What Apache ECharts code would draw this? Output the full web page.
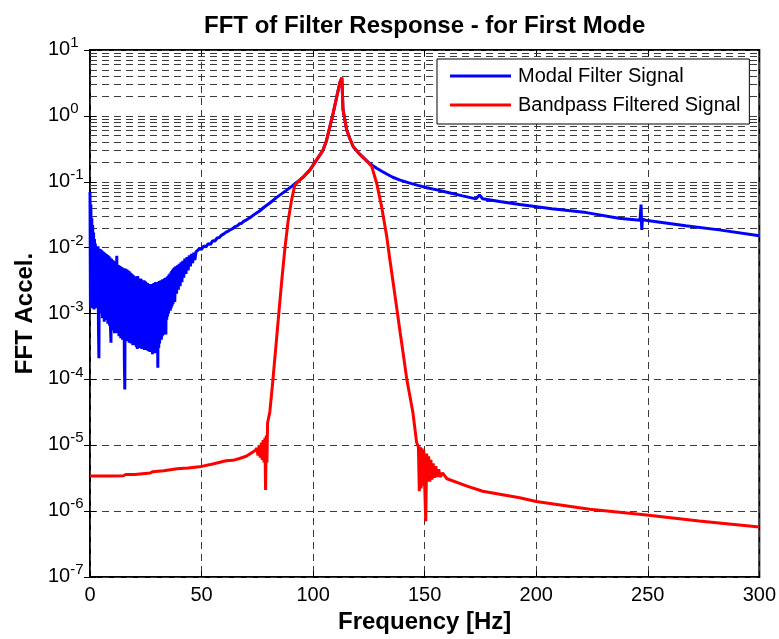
<!DOCTYPE html>
<html>
<head>
<meta charset="utf-8">
<script src="https://cdn.jsdelivr.net/npm/echarts@6/dist/echarts.min.js"></script>
<style>
html, body { margin: 0; padding: 0; background: #fff; }
#chart { width: 779px; height: 639px; }
</style>
</head>
<body>
<div id="chart"></div>
<script>
// values: [frequency Hz, FFT amplitude]

// modal filter signal, noisy low-frequency part
const modalNoisy = [
  [0,7e-2],[0.2,1.3e-3],[0.4,4.5e-2],[0.6,1.25e-3],[0.8,2.8e-2],[1,1.2e-3],[1.2,2.2e-2],[1.4,1.4e-3],[1.6,1.7e-2],[1.8,1.15e-3],
  [2,1.35e-2],[2.2,1.3e-3],[2.4,1.15e-2],[2.6,1.4e-3],[2.8,1.05e-2],[3,1.2e-3],[3.2,1.02e-2],[3.4,1.3e-3],[3.6,1.05e-2],[3.8,6e-4],
  [4,2.1e-4],[4.2,9.6e-3],[4.4,1.1e-3],[4.6,9.5e-3],[4.8,1e-3],[5,9.2e-3],[5.2,1.05e-3],[5.4,9e-3],[5.6,8.5e-4],[5.8,8.7e-3],
  [6,9.5e-4],[6.2,8.5e-3],[6.4,7.5e-4],[6.6,8.3e-3],[6.8,1e-3],[7,8.1e-3],[7.2,8e-4],[7.4,7.9e-3],[7.6,9e-4],[7.8,7.7e-3],
  [8,7e-4],[8.2,7.5e-3],[8.4,8e-4],[8.6,7.3e-3],[8.8,6.5e-4],[9,7e-3],[9.2,6e-4],[9.4,3.6e-4],[9.6,6.8e-3],[9.8,6e-4],
  [10,6.5e-3],[10.2,5.5e-4],[10.4,6.4e-3],[10.6,6.2e-4],[10.8,6.2e-3],[11,5e-4],[11.2,6e-3],[11.4,5.5e-4],[11.6,5.8e-3],[11.8,5.2e-4],
  [12,7.5e-3],[12.2,5e-4],[12.4,5.5e-3],[12.6,5.5e-4],[12.8,5.4e-3],[13,4.5e-4],[13.2,5.3e-3],[13.4,5e-4],[13.6,5.2e-3],[13.8,4.2e-4],
  [14,5.1e-3],[14.2,4.6e-4],[14.4,5e-3],[14.6,4e-4],[14.8,4.9e-3],[15,4.3e-4],[15.2,4.8e-3],[15.4,2e-4],[15.6,7e-5],[15.8,4.8e-3],
  [16,4e-4],[16.2,4.7e-3],[16.4,4.3e-4],[16.6,4.6e-3],[16.8,3.8e-4],[17,4.5e-3],[17.2,4e-4],[17.4,4.4e-3],[17.6,3.6e-4],[17.8,4.3e-3],
  [18,3.8e-4],[18.2,4.1e-3],[18.4,3.5e-4],[18.6,4e-3],[18.8,3.7e-4],[19,3.9e-3],[19.2,3.3e-4],[19.4,3.8e-3],[19.6,3.5e-4],[19.8,3.7e-3],
  [20,3.3e-4],[20.2,3.6e-3],[20.4,3.6e-4],[20.6,3.6e-3],[20.8,3.1e-4],[21,3.5e-3],[21.2,2.9e-4],[21.4,3.7e-3],[21.6,3.2e-4],[21.8,3.4e-3],
  [22,3.3e-4],[22.2,3.3e-3],[22.4,3e-4],[22.6,3.4e-3],[22.8,3.2e-4],[23,3.3e-3],[23.2,2.9e-4],[23.4,3.2e-3],[23.6,3.1e-4],[23.8,3.2e-3],
  [24,3e-4],[24.2,3.2e-3],[24.4,2.8e-4],[24.6,3.1e-3],[24.8,3e-4],[25,3e-3],[25.2,2.8e-4],[25.4,2.9e-3],[25.6,2.9e-4],[25.8,2.9e-3],
  [26,2.7e-4],[26.2,2.8e-3],[26.4,2.8e-4],[26.6,2.8e-3],[26.8,2.6e-4],[27,2.8e-3],[27.2,2.7e-4],[27.4,2.7e-3],[27.6,2.6e-4],[27.8,2.7e-3],
  [28,2.4e-4],[28.2,2.8e-3],[28.4,2.6e-4],[28.6,2.9e-3],[28.8,2.5e-4],[29,2.8e-3],[29.2,2.7e-4],[29.4,3e-3],[29.6,2.6e-4],[29.8,2.9e-3],
  [30,2.5e-4],[30.2,3e-3],[30.4,1.5e-4],[30.6,3e-3],[30.8,3e-4],[31,3.1e-3],[31.2,3.5e-4],[31.4,3.1e-3],[31.6,4e-4],[31.8,3.2e-3],
  [32,4e-4],[32.2,3.2e-3],[32.4,4.5e-4],[32.6,3.3e-3],[32.8,4.7e-4],[33,3.3e-3],[33.2,5e-4],[33.4,3.4e-3],[33.6,6e-4],[33.8,3.5e-3],
  [34,4.8e-4],[34.2,3.5e-3],[34.4,8e-4],[34.6,3.6e-3],[34.8,9e-4],[35,3.7e-3],[35.2,1e-3],[35.4,3.9e-3],[35.6,1.1e-3],[35.8,4e-3],
  [36,1.1e-3],[36.2,4.2e-3],[36.4,1.2e-3],[36.6,4.4e-3],[36.8,1.3e-3],[37,4.6e-3],[37.2,1.4e-3],[37.4,4.8e-3],[37.6,1.6e-3],[37.8,5e-3],
  [38,1.5e-3],[38.4,5.2e-3],[38.8,2e-3],[39.2,5.4e-3],[39.6,2.3e-3],[40,5.7e-3],[40.4,2.6e-3],[40.8,6e-3],[41.2,3e-3],[41.6,6.3e-3],
  [42,3.5e-3],[42.5,6.8e-3],[43,4e-3],[43.5,7.2e-3],[44,4.5e-3],[44.5,7.6e-3],[45,5.2e-3],[45.5,8e-3],[46,5.8e-3],[46.5,8.4e-3],
  [47,6.5e-3],[47.5,8.6e-3]
];

// modal filter signal, smooth part from 48 Hz up
const modalCurve = [
  [48,8.4e-3],[49,9.6e-3],[50,9.4e-3],[51,1.06e-2],[52,1.03e-2],[53,1.15e-2],[54,1.12e-2],[55,1.27e-2],[56,1.26e-2],[57,1.4e-2],
  [58,1.42e-2],[59,1.55e-2],[60,1.62e-2],[61,1.72e-2],[62,1.78e-2],[63,1.88e-2],[64,1.95e-2],[65,2.08e-2],[66,2.14e-2],[67,2.3e-2],
  [68,2.35e-2],[69,2.52e-2],[70,2.62e-2],[72,2.9e-2],[74,3.25e-2],[76,3.6e-2],[78,4.1e-2],[80,4.6e-2],[82,5.2e-2],[84,5.9e-2],
  [86,6.6e-2],[88,7.4e-2],[90,8.3e-2],[92,9.4e-2],[94,0.106],[96,0.122],[98.5,0.15],[101,0.2],[104.4,0.3],[106,0.42],
  [107.5,0.68],[109,1.1],[110.6,1.95],[112,3.2],[112.9,3.8],[113.4,1.25],[115,0.62],[116.5,0.45],[118,0.34],[121,0.26],
  [124.5,0.2],[126.5,0.178],[128.5,0.16],[131,0.143],[133,0.131],[135.7,0.117],[139,0.106],[143,0.096],[147,0.088],[151,0.081],
  [155,0.076],[161,0.068],[167,0.061],[173,0.055],[174.6,0.063],[176,0.055],[183.6,0.05],
  [192.6,0.045],[207,0.039],[222.5,0.034],[237,0.028],[246.5,0.026],[247,0.045],[247.3,0.0186],[247.6,0.027],[249,0.026],[267,0.0214],
  [282,0.0186],[300,0.0151]
];

// bandpass filtered signal
const bandLow = [
  [0,3.4e-6],[5,3.4e-6],[10,3.4e-6],[15,3.45e-6],[16,3.6e-6],[20,3.6e-6],[27,3.8e-6],[28,3.95e-6],[33,4.1e-6],[39,4.4e-6],
  [44,4.5e-6],[49,4.7e-6],[55,5.2e-6],[61,5.8e-6],[64,5.9e-6],[67,6.3e-6],[70,6.8e-6],[73,7.9e-6],[74,8.3e-6],[74.8,9e-6],
  [75.3,7e-6],[75.8,1e-5],[76.3,6.5e-6],[76.8,1.1e-5],[77.2,6e-6],[77.6,1.2e-5],[78,5.5e-6],[78.4,1.3e-5],[78.7,2.1e-6],[79,1.4e-5],
  [79.3,5.5e-6],[79.6,2.2e-5]
];
const bandPass = [
  [80.6,3.2e-5],[81.3,5.6e-5],[82,1e-4],[83,2.4e-4],[84,5.8e-4],[85,1.4e-3],[86,3.3e-3],[87.3,9.3e-3],[88.7,2.4e-2],[90.4,5.4e-2],
  [91.8,8.9e-2],[94,0.106],[96,0.122],[98.5,0.15],[101,0.2],[104.4,0.3],[106,0.42],[107.5,0.68],[109,1.1],[110.6,1.95],
  [112,3.2],[112.9,3.8],[113.4,1.25],[115,0.62],[116.5,0.45],[118,0.34],[121,0.26],[124.5,0.2],[126.3,0.17],[128.5,0.095],
  [130.7,0.042],[133,0.0148],[134.4,6.6e-3],[136,2.75e-3],[137.5,1.2e-3],[139,5.2e-4],[140.5,2.3e-4],[142,1e-4],[144.7,3.2e-5],[146.4,1.1e-5]
];
const bandHigh = [
  [147.2,9.5e-6],[147.6,2e-6],[148,9.5e-6],[148.4,2.2e-6],[148.8,9e-6],[149.2,2.4e-6],[149.6,8.5e-6],[150,2.5e-6],[150.5,7e-7],[150.9,7.5e-6],
  [151.3,2.8e-6],[151.8,6.8e-6],[152.3,2.8e-6],[152.8,6e-6],[153.3,3e-6],[153.8,5.3e-6],[154.4,3.2e-6],[155,4.8e-6],[155.6,3.3e-6],[156.3,4.3e-6],
  [157,3.3e-6],[158,3.8e-6],[160,3.1e-6],[169,2.4e-6],[176,2e-6],[192.6,1.6e-6],[200,1.4e-6],[224,1.07e-6],[249.5,8.7e-7],[273,7.1e-7],
  [300,5.75e-7]
];

const seriesNames = ['Modal Filter Signal', 'Bandpass Filtered Signal'];
const decades = [-7, -6, -5, -4, -3, -2, -1, 0];
const mantissas = [2, 3, 4, 5, 6, 7, 8, 9];

const FONT = "'Liberation Sans', Arial, Helvetica, sans-serif";
const gridDash = { type: [7, 5], color: '#3a3a3a', width: 1 };

// minor log grid lines (2..9 in every decade)
const minorLines = [];
decades.forEach(d => mantissas.forEach(m => minorLines.push({ yAxis: m * Math.pow(10, d) })));

const chart = echarts.init(document.getElementById('chart'));

const option = {
  animation: false,
  backgroundColor: '#fff',
  textStyle: { fontFamily: FONT },
  title: {
    text: 'FFT of Filter Response - for First Mode',
    left: 199,
    top: 9,
    textStyle: { fontSize: 24, fontWeight: 'bold', color: '#000', fontFamily: FONT }
  },
  grid: {
    left: 90, right: 18, top: 50, bottom: 61,
    show: true, borderColor: '#000', borderWidth: 2, backgroundColor: '#fff'
  },
  legend: {
    data: seriesNames.map(n => ({ name: n, icon: 'rect' })),
    orient: 'vertical',
    left: 437,
    top: 59,
    z: 20,
    padding: [7, 9, 9, 13],
    itemWidth: 61,
    itemHeight: 3,
    itemGap: 9,
    backgroundColor: '#fff',
    borderColor: '#000',
    borderWidth: 1,
    borderRadius: 0,
    textStyle: { fontSize: 20, color: '#000', lineHeight: 20, padding: [0, 0, 0, 2], fontFamily: FONT }
  },
  xAxis: [{
    type: 'value', min: 0, max: 300, interval: 50,
    name: 'Frequency [Hz]', nameLocation: 'middle', nameGap: 33,
    nameTextStyle: { fontSize: 24, fontWeight: 'bold', color: '#000', fontFamily: FONT },
    axisLine: { show: false },
    axisTick: { inside: true, length: 6, lineStyle: { color: '#000' } },
    axisLabel: { fontSize: 20, color: '#000', margin: 8, fontFamily: FONT },
    splitLine: { show: true, lineStyle: gridDash }
  }, {
    type: 'value', position: 'top', min: 0, max: 300, interval: 50,
    axisLine: { show: false },
    axisTick: { inside: true, length: 6, lineStyle: { color: '#000' } },
    axisLabel: { show: false },
    splitLine: { show: false }
  }],
  yAxis: [{
    type: 'log', logBase: 10, min: 1e-7, max: 10, splitNumber: 8,
    name: 'FFT Accel.', nameLocation: 'middle', nameGap: 46,
    nameTextStyle: { fontSize: 24, fontWeight: 'bold', color: '#000', fontFamily: FONT },
    axisLine: { show: false },
    axisTick: { inside: true, length: 6, lineStyle: { color: '#000' } },
    axisLabel: {
      align: 'left', margin: 42, padding: [0, 0, 5, 0],
      formatter: v => '{b|10}{e|' + Math.round(Math.log10(v)) + '}',
      rich: {
        b: { fontSize: 20, color: '#000', verticalAlign: 'bottom', lineHeight: 24, fontFamily: FONT },
        e: { fontSize: 15, color: '#000', verticalAlign: 'top', lineHeight: 24, fontFamily: FONT }
      }
    },
    splitLine: { show: true, lineStyle: gridDash }
  }, {
    type: 'log', logBase: 10, min: 1e-7, max: 10, splitNumber: 8, position: 'right',
    axisLine: { show: false },
    axisTick: { inside: true, length: 6, lineStyle: { color: '#000' } },
    axisLabel: { show: false },
    splitLine: { show: false }
  }],
  series: [{
    name: 'minor grid', type: 'line', data: [], silent: true, z: 1,
    markLine: {
      z: 1, silent: true, animation: false, symbol: ['none', 'none'],
      label: { show: false }, lineStyle: gridDash,
      emphasis: { disabled: true },
      data: minorLines
    }
  }, {
    name: seriesNames[0], type: 'line', z: 2,
    data: modalNoisy.concat(modalCurve),
    symbol: 'none', showSymbol: false,
    lineStyle: { color: '#0000ff', width: 3 }, itemStyle: { color: '#0000ff' }
  }, {
    name: seriesNames[1], type: 'line', z: 3,
    data: bandLow.concat(bandPass, bandHigh),
    symbol: 'none', showSymbol: false,
    lineStyle: { color: '#ff0000', width: 3 }, itemStyle: { color: '#ff0000' }
  }]
};

chart.setOption(option);
</script>
</body>
</html>
